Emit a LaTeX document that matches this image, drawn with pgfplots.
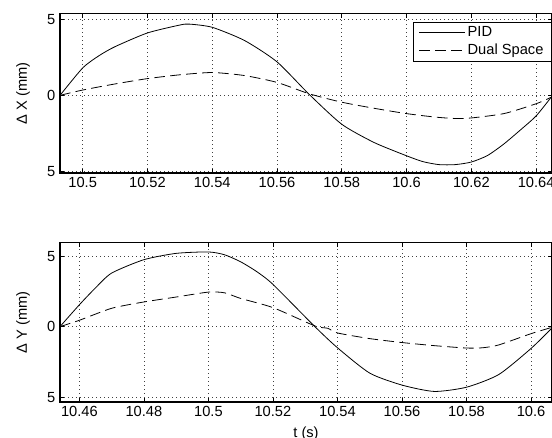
\documentclass[border=0pt]{standalone}
\usepackage{fontspec}
\setmainfont{Liberation Sans}
\usepackage{pgfplots}
\pgfplotsset{compat=1.18}

\newcommand{\lblfont}{\fontsize{11}{13}\selectfont}
\pgfplotsset{
  matlab/.style={
    scale only axis,
    width=369pt, height=119.3pt,
    axis line style={line width=0.8pt},
    tick align=inside,
    major tick length=3pt,
    tick style={black, line width=0.5pt},
    grid=major,
    major grid style={black!75, line width=0.5pt, dash pattern=on 0.6pt off 2.4pt},
    ytick={-5,0,5},
    yticklabels={5,0,5},
    tick label style={font=\lblfont},
    every axis y label/.style={at={(axis description cs:-0.0752,0.5)}, rotate=90, anchor=center, font=\lblfont},
    clip=true,
  },
  pid/.style={black, line width=0.6pt, smooth, tension=0.4},
  dual/.style={black, line width=0.6pt, dash pattern=on 8pt off 4pt, smooth, tension=0.4},
}

\begin{document}
\begin{tikzpicture}
% upper panel: x deviation
\begin{axis}[matlab,
  at={(0,171.75pt)}, anchor=south west,
  xmin=10.4930, xmax=10.6449, ymin=-5.1, ymax=5.35,
  xtick={10.5,10.52,10.54,10.56,10.58,10.6,10.62,10.64},
  xticklabels={10.5,10.52,10.54,10.56,10.58,10.6,10.62,10.64},
  ylabel={Δ X (mm)},
  legend style={at={(1,1)}, anchor=north east, yshift=-5.75pt,
    draw=black, line width=0.8pt, font=\lblfont,
    inner xsep=4pt, inner ysep=1.5pt, row sep=0pt},
  legend cell align=left,
  legend image code/.code={\draw[#1, line width=0.6pt] (0pt,0pt) -- (34pt,0pt);},
]
\addplot[pid] coordinates {
(10.4930,0) (10.50,1.8) (10.505,2.6) (10.51,3.2) (10.52,4.1) (10.53,4.62) (10.533,4.68)
(10.54,4.47) (10.55,3.6) (10.56,2.2) (10.57,0.05) (10.58,-1.9) (10.59,-3.1)
(10.60,-3.97) (10.605,-4.35) (10.61,-4.55) (10.615,-4.55) (10.62,-4.38) (10.625,-3.95)
(10.63,-3.2) (10.635,-2.3) (10.64,-1.35) (10.6449,-0.05)
};
\addlegendentry{PID}
\addplot[dual] coordinates {
(10.4930,0) (10.50,0.35) (10.51,0.75) (10.52,1.1) (10.53,1.35) (10.54,1.5)
(10.55,1.3) (10.56,0.85) (10.57,0.1) (10.58,-0.45) (10.59,-0.85) (10.60,-1.2)
(10.61,-1.45) (10.618,-1.52) (10.63,-1.2) (10.64,-0.55) (10.6449,-0.1)
};
\addlegendentry{Dual Space}
\end{axis}
% lower panel: y deviation
\begin{axis}[matlab,
  at={(0,0)}, anchor=south west,
  xmin=10.454, xmax=10.6065, ymin=-5.35, ymax=5.94,
  xtick={10.46,10.48,10.5,10.52,10.54,10.56,10.58,10.6},
  xticklabels={10.46,10.48,10.5,10.52,10.54,10.56,10.58,10.6},
  ylabel={Δ Y (mm)},
  xlabel={t (s)},
  xlabel style={at={(axis description cs:0.5,0)}, anchor=north, inner sep=0pt, yshift=-18.75pt, font=\lblfont},
]
\addplot[pid] coordinates {
(10.454,0) (10.46,1.55) (10.465,2.75) (10.47,3.8) (10.48,4.75) (10.49,5.2) (10.50,5.3)
(10.505,5.1) (10.51,4.6) (10.515,3.9) (10.52,3.0) (10.533,0) (10.54,-1.5) (10.55,-3.3)
(10.56,-4.15) (10.57,-4.6) (10.58,-4.3) (10.59,-3.4) (10.60,-1.55) (10.6065,-0.1)
};
\addplot[dual] coordinates {
(10.454,0) (10.46,0.45) (10.47,1.3) (10.48,1.75) (10.49,2.1) (10.50,2.45)
(10.505,2.4) (10.51,2.0) (10.52,1.35) (10.533,0.05) (10.537,-0.12) (10.54,-0.45)
(10.55,-0.85) (10.56,-1.13) (10.57,-1.35) (10.58,-1.52) (10.585,-1.5) (10.59,-1.3)
(10.60,-0.5) (10.6065,-0.05)
};
\end{axis}
\pgfresetboundingbox
\useasboundingbox (-45pt,-27pt) rectangle (369pt,301.5pt);
\end{tikzpicture}
\end{document}
